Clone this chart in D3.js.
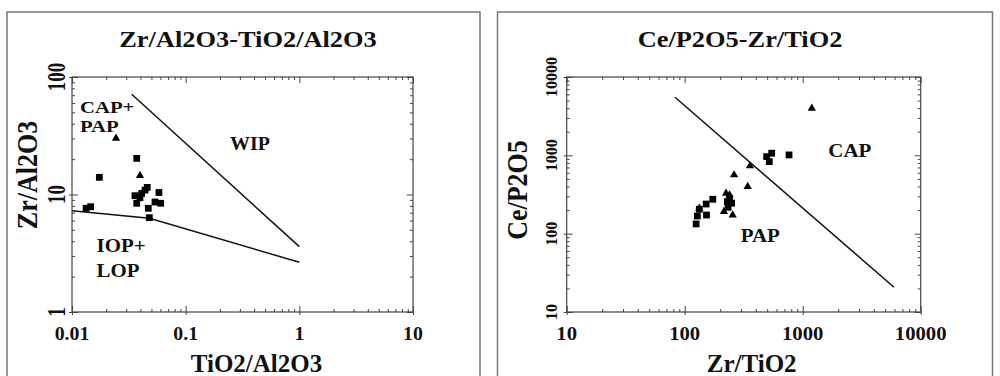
<!DOCTYPE html>
<html>
<head>
<meta charset="utf-8">
<script src="https://cdn.jsdelivr.net/npm/d3@7"></script>
<style>
  html, body { margin: 0; padding: 0; background: #fff; }
  svg { display: block; }
</style>
</head>
<body>
<svg id="chart" width="1000" height="376"></svg>
<script>
// ---- Zr/Al2O3 vs TiO2/Al2O3 ----
const leftSquaresX = [0.0371, 0.0174, 0.0582, 0.0537, 0.0603, 0.0469, 0.0479, 0.0133, 0.0146, 0.0358, 0.0371, 0.0410, 0.0439, 0.0459, 0.0396];
const leftSquaresY = [20.3, 14.0, 10.4, 8.63, 8.42, 7.63, 6.35, 7.63, 7.87, 9.77, 8.42, 10.2, 10.9, 11.5, 9.39];
const leftTrianglesX = [0.0244, 0.0396];
const leftTrianglesY = [30.1, 14.5];
// field boundaries
const wipBoundaryX = [0.0335, 1];
const wipBoundaryY = [71.3, 3.6];
const iopBoundaryX = [0.01, 0.048, 1];
const iopBoundaryY = [7.28, 6.27, 2.65];
const leftXTicks = [0.01, 0.1, 1, 10];
const leftXTickLabels = ["0.01", "0.1", "1", "10"];
const leftYTicks = [1, 10, 100];
const leftYTickLabels = ["1", "10", "100"];

// ---- Ce/P2O5 vs Zr/TiO2 ----
const rightSquaresX = [495, 546, 521, 766, 173, 152, 153, 133, 125, 128, 230, 250, 233, 240];
const rightSquaresY = [962, 1064, 831, 1012, 275, 239, 173, 205, 133, 168, 256, 245, 217, 283];
const rightTrianglesX = [1194, 357, 262, 342, 133, 224, 215, 255, 240];
const rightTrianglesY = [3993, 732, 562, 398, 211, 328, 191, 173, 312];
const capBoundaryX = [82.8, 5940];
const capBoundaryY = [5520, 20.7];
const rightXTicks = [10, 100, 1000, 10000];
const rightXTickLabels = ["10", "100", "1000", "10000"];
const rightYTicks = [10, 100, 1000, 10000];
const rightYTickLabels = ["10", "100", "1000", "10000"];

const FONT = "'Liberation Serif', 'Times New Roman', 'DejaVu Serif', serif";
const svg = d3.select("#chart");

// stretched text helper (glyphs are drawn a little wider than tall)
function label(g, lines, x, y, o) {
  const t = g.append("text")
    .attr("text-anchor", o.anchor || "middle")
    .style("font-family", FONT)
    .style("font-weight", "bold")
    .style("font-size", o.size + "px")
    .attr("fill", "#111")
    .attr("transform", `translate(${x},${y}) scale(${o.sx || 1},1)` + (o.rotate ? " rotate(-90)" : ""));
  [].concat(lines).forEach((s, i) => {
    t.append("tspan").attr("x", 0).attr("dy", i === 0 ? 0 : (o.lineGap || o.size)).text(s);
  });
  return t;
}

function minorValues(domain) {
  const out = [];
  for (let p = Math.log10(domain[0]); p < Math.log10(domain[1]); p++) {
    for (let m = 2; m <= 9; m++) out.push(m * Math.pow(10, p));
  }
  return out;
}

function drawAxes(g, x, y, xMajor, yMajor) {
  const [x0, x1] = x.range();
  const [y1, y0] = y.range();
  const xMinor = minorValues(x.domain());
  const yMinor = minorValues(y.domain());
  const axisStyle = sel => {
    sel.select(".domain").remove();
    sel.selectAll("line").attr("stroke", "#444").attr("stroke-width", 1);
    sel.selectAll("text").remove();
  };
  // bottom
  g.append("g").attr("transform", `translate(0,${y1})`).call(d3.axisBottom(x).tickValues(xMinor).tickSize(-3).tickSizeOuter(0)).call(axisStyle);
  g.append("g").attr("transform", `translate(0,${y1})`).call(d3.axisBottom(x).tickValues(xMajor).tickSize(-6).tickSizeOuter(0)).call(axisStyle);
  g.append("g").attr("transform", `translate(0,${y1})`).call(d3.axisBottom(x).tickValues(xMajor).tickSize(3).tickSizeOuter(0)).call(axisStyle);
  // top
  g.append("g").attr("transform", `translate(0,${y0})`).call(d3.axisTop(x).tickValues(xMinor).tickSize(-3).tickSizeOuter(0)).call(axisStyle);
  g.append("g").attr("transform", `translate(0,${y0})`).call(d3.axisTop(x).tickValues(xMajor).tickSize(-6).tickSizeOuter(0)).call(axisStyle);
  // left
  g.append("g").attr("transform", `translate(${x0},0)`).call(d3.axisLeft(y).tickValues(yMinor).tickSize(-3).tickSizeOuter(0)).call(axisStyle);
  g.append("g").attr("transform", `translate(${x0},0)`).call(d3.axisLeft(y).tickValues(yMajor).tickSize(-6).tickSizeOuter(0)).call(axisStyle);
  g.append("g").attr("transform", `translate(${x0},0)`).call(d3.axisLeft(y).tickValues(yMajor).tickSize(3).tickSizeOuter(0)).call(axisStyle);
  // right
  g.append("g").attr("transform", `translate(${x1},0)`).call(d3.axisRight(y).tickValues(yMinor).tickSize(-3).tickSizeOuter(0)).call(axisStyle);
  g.append("g").attr("transform", `translate(${x1},0)`).call(d3.axisRight(y).tickValues(yMajor).tickSize(-6).tickSizeOuter(0)).call(axisStyle);
  // frame
  g.append("rect").attr("x", x0).attr("y", y0).attr("width", x1 - x0).attr("height", y1 - y0)
    .attr("fill", "none").attr("stroke", "#444").attr("stroke-width", 1.2);
}

function drawPoints(g, x, y, xs, ys, type, size) {
  const sym = d3.symbol().type(type).size(size);
  g.append("g").selectAll("path").data(xs.map((v, i) => [v, ys[i]])).join("path")
    .attr("d", sym)
    .attr("transform", d => `translate(${x(d[0])},${y(d[1])})`)
    .attr("fill", "#000");
}

function drawBoundary(g, x, y, xs, ys) {
  const line = d3.line().x(d => x(d[0])).y(d => y(d[1]));
  g.append("path").attr("d", line(xs.map((v, i) => [v, ys[i]])))
    .attr("fill", "none").attr("stroke", "#111").attr("stroke-width", 1.5);
}

// panel frames
svg.append("rect").attr("x", 7).attr("y", 12).attr("width", 473).attr("height", 400)
  .attr("fill", "none").attr("stroke", "#777").attr("stroke-width", 1.5);
svg.append("rect").attr("x", 497.5).attr("y", 12).attr("width", 495).attr("height", 400)
  .attr("fill", "none").attr("stroke", "#777").attr("stroke-width", 1.5);

// ===== Left panel =====
{
  const g = svg.append("g");
  const x = d3.scaleLog().domain([0.01, 10]).range([72, 413]);
  const y = d3.scaleLog().domain([1, 100]).range([312, 77]);
  drawAxes(g, x, y, leftXTicks, leftYTicks);
  drawBoundary(g, x, y, wipBoundaryX, wipBoundaryY);
  drawBoundary(g, x, y, iopBoundaryX, iopBoundaryY);
  drawPoints(g, x, y, leftSquaresX, leftSquaresY, d3.symbolSquare, 46);
  drawPoints(g, x, y, leftTrianglesX, leftTrianglesY, d3.symbolTriangle, 30);

  label(g, "Zr/Al2O3-TiO2/Al2O3", 248, 47, { size: 24, sx: 1.1 });
  label(g, "TiO2/Al2O3", 256.5, 371.5, { size: 25, sx: 1.0 });
  label(g, "Zr/Al2O3", 37, 175, { size: 26, sx: 1.1, rotate: true });
  leftXTicks.forEach((v, i) => label(g, leftXTickLabels[i], x(v), 340, { size: 18, sx: 1.1 }));
  leftYTicks.forEach((v, i) => label(g, leftYTickLabels[i], 65, y(v), { size: 19, sx: 1.3, rotate: true }));

  label(g, "CAP+", 80, 112.5, { size: 17, sx: 1.22, anchor: "start" });
  label(g, "PAP", 80, 131.5, { size: 17, sx: 1.22, anchor: "start" });
  label(g, "WIP", 230, 150, { size: 19, sx: 1.05, anchor: "start" });
  label(g, "IOP+", 96.5, 252, { size: 19, sx: 1.1, anchor: "start" });
  label(g, "LOP", 96.5, 276.5, { size: 19, sx: 1.1, anchor: "start" });
}

// ===== Right panel =====
{
  const g = svg.append("g");
  const x = d3.scaleLog().domain([10, 10000]).range([566.7, 920.7]);
  const y = d3.scaleLog().domain([10, 10000]).range([312, 77]);
  drawAxes(g, x, y, rightXTicks, rightYTicks);
  drawBoundary(g, x, y, capBoundaryX, capBoundaryY);
  drawPoints(g, x, y, rightSquaresX, rightSquaresY, d3.symbolSquare, 46);
  drawPoints(g, x, y, rightTrianglesX, rightTrianglesY, d3.symbolTriangle, 30);

  label(g, "Ce/P2O5-Zr/TiO2", 740, 47, { size: 24, sx: 1.1 });
  label(g, "Zr/TiO2", 751.7, 371.5, { size: 25, sx: 1.0 });
  label(g, "Ce/P2O5", 527, 190, { size: 26, sx: 1.1, rotate: true });
  rightXTicks.forEach((v, i) => label(g, rightXTickLabels[i], x(v), 340, { size: 18, sx: 1.15 }));
  rightYTicks.forEach((v, i) => label(g, rightYTickLabels[i], 557, y(v), { size: 16, sx: 1.1, rotate: true }));

  label(g, "CAP", 828.3, 156.5, { size: 19, sx: 1.1, anchor: "start" });
  label(g, "PAP", 740.7, 241.5, { size: 19, sx: 1.1, anchor: "start" });
}
</script>
</body>
</html>
